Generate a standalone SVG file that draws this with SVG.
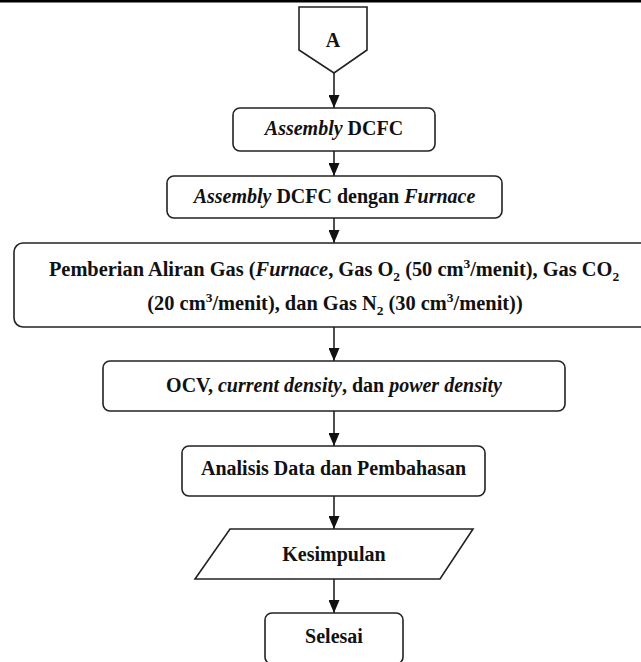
<svg xmlns="http://www.w3.org/2000/svg" width="641" height="662" viewBox="0 0 641 662">
<defs>
<style>
.shape{fill:#fff;stroke:#222;stroke-width:1.6}
.t{font-family:'Liberation Serif','Tinos','DejaVu Serif',serif;font-size:20px;font-weight:bold;fill:#111;text-anchor:middle}
.w{font-size:20.4px}
.i{font-style:italic}
.s{font-size:13.5px}
.conn line{stroke:#222;stroke-width:1.6;marker-end:url(#arr)}
</style>
<marker id="arr" viewBox="0 0 13 11" markerWidth="13" markerHeight="11" refX="13" refY="5.5" orient="auto" markerUnits="userSpaceOnUse">
<path d="M0,0 L13,5.5 L0,11 z" fill="#111"/>
</marker>
</defs>
<rect x="0" y="0" width="641" height="2.5" fill="#000"/>
<g class="conn" id="connectors">
<line x1="334" y1="73" x2="334" y2="108"/>
<line x1="334" y1="151" x2="334" y2="176"/>
<line x1="334" y1="218" x2="334" y2="243"/>
<line x1="334" y1="327" x2="334" y2="361"/>
<line x1="334" y1="411" x2="334" y2="446"/>
<line x1="334" y1="496" x2="334" y2="529"/>
<line x1="334" y1="579" x2="334" y2="613"/>
</g>
<g id="nodeA">
<polygon class="shape" points="299,7 367,7 367,50 334,73 299,50"/>
<text class="t" x="333" y="47">A</text>
</g>
<g id="node1">
<rect class="shape" x="233" y="108" width="202" height="43" rx="7"/>
<text class="t" x="334" y="135"><tspan class="i">Assembly</tspan> DCFC</text>
</g>
<g id="node2">
<rect class="shape" x="167" y="176" width="335" height="42" rx="7"/>
<text class="t" x="334.5" y="203"><tspan class="i">Assembly</tspan> DCFC dengan <tspan class="i">Furnace</tspan></text>
</g>
<g id="node3">
<rect class="shape" x="14" y="243" width="640" height="84" rx="9"/>
<text class="t w" x="334" y="276">Pemberian Aliran Gas (<tspan class="i">Furnace</tspan>, Gas O<tspan class="s" dy="5">2</tspan><tspan dy="-5"> (50 cm</tspan><tspan class="s" dy="-8">3</tspan><tspan dy="8">/menit), Gas CO</tspan><tspan class="s" dy="5">2</tspan></text>
<text class="t w" x="335" y="310">(20 cm<tspan class="s" dy="-8">3</tspan><tspan dy="8">/menit), dan Gas N</tspan><tspan class="s" dy="5">2</tspan><tspan dy="-5"> (30 cm</tspan><tspan class="s" dy="-8">3</tspan><tspan dy="8">/menit))</tspan></text>
</g>
<g id="node4">
<rect class="shape" x="103" y="361" width="462" height="50" rx="7"/>
<text class="t" x="334" y="392">OCV, <tspan class="i">current density</tspan>, dan <tspan class="i">power density</tspan></text>
</g>
<g id="node5">
<rect class="shape" x="182" y="446" width="303" height="50" rx="7"/>
<text class="t" x="333.5" y="475">Analisis Data dan Pembahasan</text>
</g>
<g id="node6">
<polygon class="shape" points="230,529 473,529 440,579 195,579"/>
<text class="t" x="334" y="561">Kesimpulan</text>
</g>
<g id="node7">
<rect class="shape" x="265" y="613" width="138" height="51" rx="7"/>
<text class="t" x="334" y="643">Selesai</text>
</g>
</svg>
